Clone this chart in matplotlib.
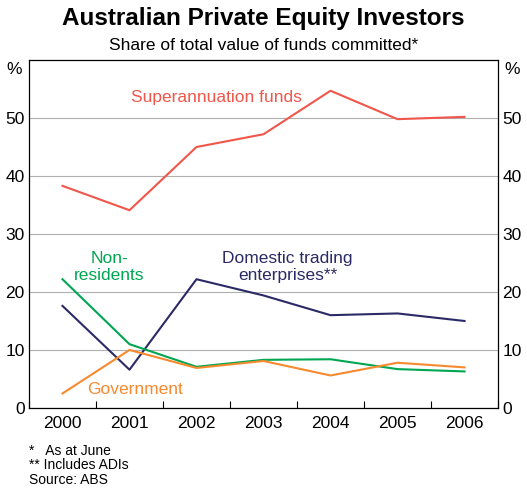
import matplotlib
matplotlib.use('Agg')
import matplotlib.pyplot as plt
from matplotlib.ticker import MultipleLocator

plt.rcParams['font.family'] = ['Liberation Sans', 'DejaVu Sans']

years = ['2000', '2001', '2002', '2003', '2004', '2005', '2006']
superannuation = [38.3, 34.1, 45.0, 47.2, 54.7, 49.8, 50.2]
domestic = [17.6, 6.6, 22.2, 19.4, 16.0, 16.3, 15.0]
non_residents = [22.2, 11.0, 7.1, 8.3, 8.4, 6.7, 6.3]
government = [2.5, 10.0, 6.9, 8.1, 5.6, 7.8, 7.0]

red = '#f0564a'
navy = '#2b2a66'
green = '#00a651'
orange = '#f7892f'

fig = plt.figure(figsize=(5.27, 4.88), dpi=100)
ax = fig.add_axes([0.055, 0.164, 0.89, 0.713])
x = list(range(len(years)))

ax.plot(x, superannuation, color=red, lw=1.5)
ax.plot(x, domestic, color=navy, lw=1.5)
ax.plot(x, non_residents, color=green, lw=1.5)
ax.plot(x, government, color=orange, lw=1.5)

ax.set_xlim(-0.5, 6.5)
ax.set_ylim(0, 60)
ax.set_yticks([0, 10, 20, 30, 40, 50])
ax.yaxis.grid(True, color='#b0b0b0', lw=0.8)
ax.set_axisbelow(True)
ax.set_xticks(x)
ax.set_xticklabels(years)
ax.xaxis.set_minor_locator(MultipleLocator(1, offset=0.5))
ax.tick_params(axis='x', which='major', length=0, labelsize=12.5, pad=6)
ax.tick_params(axis='x', which='minor', length=5, direction='in', width=0.8)
ax.tick_params(axis='y', length=0, labelsize=12.5, pad=3, labelright=True)
for s in ax.spines.values():
    s.set_linewidth(0.9)

ax.text(-0.6, 59.6, '%', ha='right', va='top', fontsize=12.5)
ax.text(6.6, 59.6, '%', ha='left', va='top', fontsize=12.5)

ax.text(2.3, 53.5, 'Superannuation funds', color=red, ha='center', va='center', fontsize=12.5)
ax.text(0.7, 24.3, 'Non-\nresidents', color=green, ha='center', va='center', fontsize=12.5, linespacing=1.1)
ax.text(3.36, 24.3, 'Domestic trading\nenterprises**', color=navy, ha='center', va='center', fontsize=12.5, linespacing=1.1)
ax.text(1.08, 3.1, 'Government', color=orange, ha='center', va='center', fontsize=12.5)

fig.text(0.5, 0.962, 'Australian Private Equity Investors', ha='center', va='center',
         fontsize=17.5, fontweight='bold')
fig.text(0.5, 0.906, 'Share of total value of funds committed*', ha='center', va='center', fontsize=12.5)

fig.text(0.055, 0.047, '*   As at June\n** Includes ADIs\nSource: ABS', ha='left', va='center',
         fontsize=10, linespacing=1.05)

fig.savefig('out.png', dpi=100)
